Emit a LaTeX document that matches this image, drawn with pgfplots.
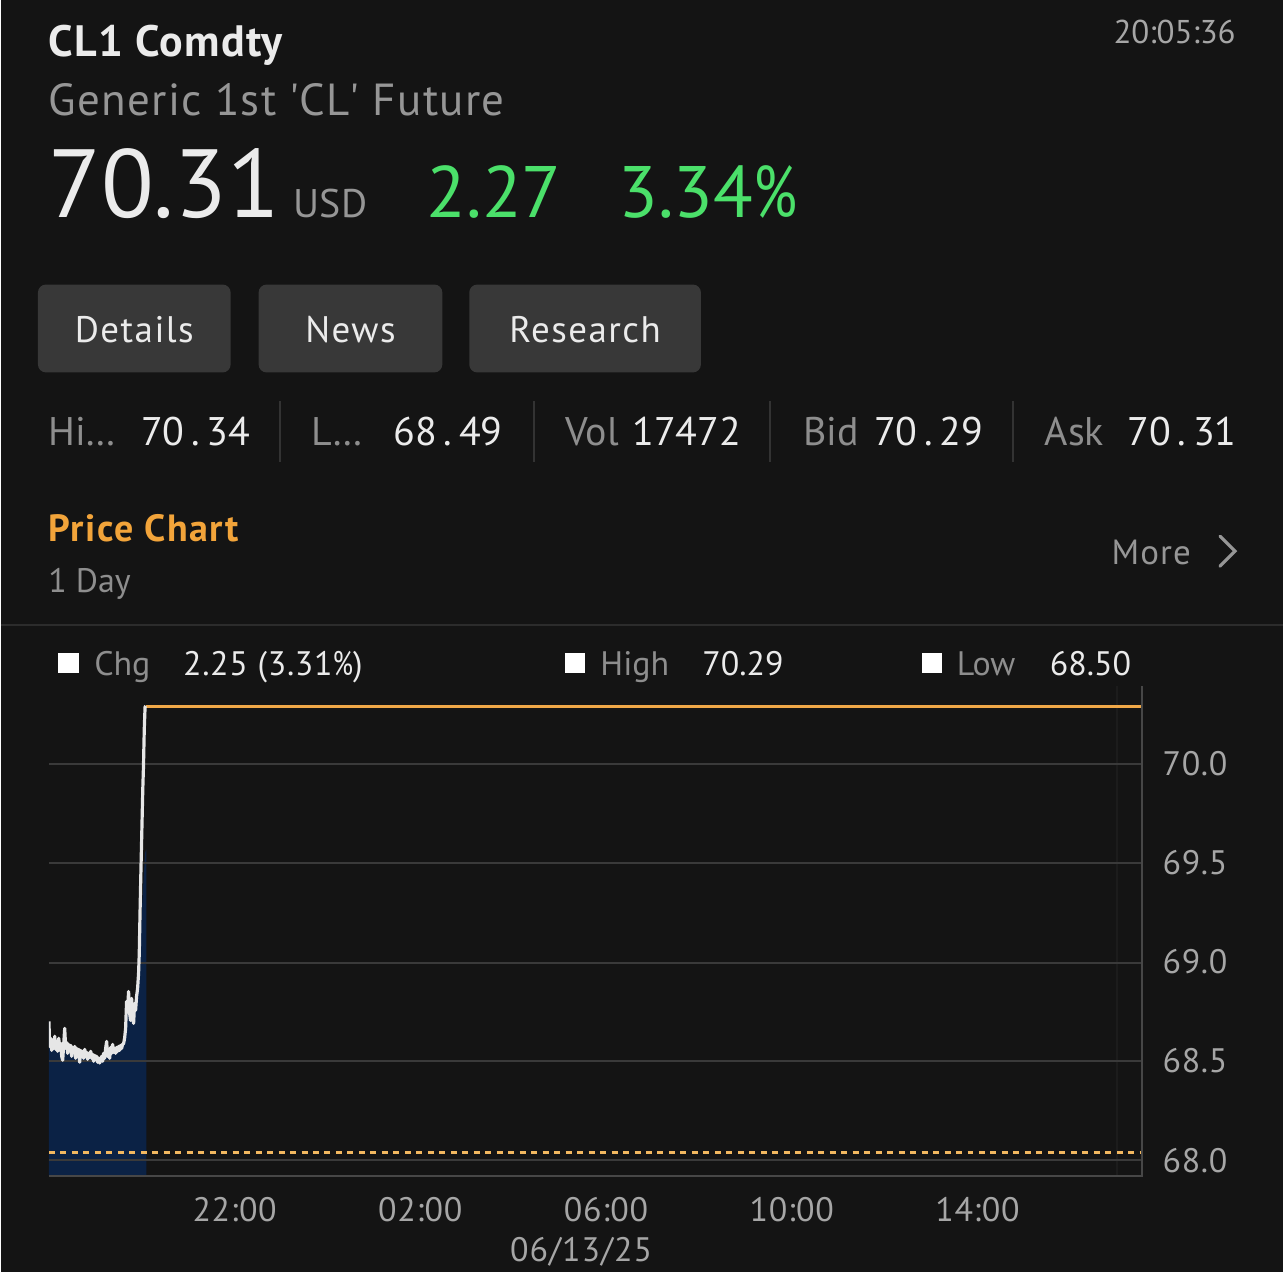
\documentclass[border=0pt]{standalone}
\usepackage{pgfplots}
\pgfplotsset{compat=1.18}
\usepackage{pgfplotstable}
\usepackage{fontspec}
\setmainfont{PT Sans}
\definecolor{bg}{HTML}{141414}
\definecolor{wt}{HTML}{EBEBEB}
\definecolor{gr}{HTML}{969696}
\definecolor{grd}{HTML}{8E8E8E}
\definecolor{green}{HTML}{4BE06A}
\definecolor{orng}{HTML}{F2A43A}
\definecolor{orline}{HTML}{F0A848}
\definecolor{ordash}{HTML}{F2B860}
\definecolor{btn}{HTML}{383838}
\definecolor{divc}{HTML}{333333}
\definecolor{sepc}{HTML}{2C2C2C}
\definecolor{gridc}{HTML}{3A3A3A}
\definecolor{axc}{HTML}{474747}
\definecolor{tick}{HTML}{A6A6A6}
\definecolor{navy}{HTML}{0B2245}
\definecolor{linec}{HTML}{E6E6E6}
\definecolor{faint}{HTML}{1C1C1C}
\newcommand{\fs}[1]{\fontsize{#1}{#1}\selectfont}
\newcommand{\ls}[1]{\addfontfeatures{LetterSpace=#1}}
\newcommand{\tp}{\makebox[\fontcharwd\font`\0][c]{.}}
\newcommand{\pc}{\scalebox{0.78}[1]{\%}}

\pgfplotstableread{
h v
0.000 68.700
0.017 68.574
0.039 68.615
0.060 68.554
0.082 68.605
0.103 68.564
0.125 68.625
0.146 68.559
0.168 68.594
0.189 68.549
0.211 68.615
0.232 68.569
0.254 68.589
0.275 68.524
0.297 68.504
0.318 68.584
0.340 68.665
0.361 68.564
0.383 68.594
0.404 68.539
0.426 68.584
0.447 68.554
0.469 68.579
0.490 68.524
0.512 68.569
0.533 68.544
0.555 68.574
0.576 68.514
0.598 68.564
0.619 68.534
0.641 68.559
0.662 68.494
0.684 68.554
0.705 68.529
0.727 68.549
0.748 68.514
0.770 68.559
0.791 68.524
0.813 68.544
0.834 68.509
0.856 68.539
0.877 68.519
0.899 68.549
0.920 68.514
0.942 68.534
0.963 68.499
0.985 68.529
1.006 68.509
1.028 68.524
1.049 68.494
1.071 68.514
1.092 68.490
1.114 68.504
1.135 68.524
1.157 68.499
1.178 68.539
1.200 68.514
1.222 68.564
1.243 68.599
1.265 68.524
1.286 68.554
1.308 68.514
1.329 68.569
1.351 68.539
1.372 68.584
1.394 68.544
1.415 68.564
1.437 68.539
1.458 68.569
1.480 68.549
1.501 68.574
1.523 68.554
1.544 68.579
1.566 68.564
1.587 68.584
1.609 68.589
1.630 68.615
1.652 68.665
1.673 68.801
1.695 68.766
1.716 68.851
1.738 68.741
1.759 68.705
1.781 68.816
1.802 68.725
1.824 68.690
1.845 68.791
1.867 68.756
1.888 68.826
1.910 68.866
1.931 68.942
1.946 69.043
1.963 69.254
1.978 69.421
2.000 69.647
2.022 69.874
2.037 69.990
2.054 70.176
2.071 70.287
2.086 70.292
}\pricedata

\pgfplotstableread{
h v
1.910 68.866
1.931 68.942
1.946 69.000
1.963 69.050
1.978 69.150
2.022 69.350
2.071 69.550
2.100 69.570
}\filltail

\begin{document}
\begin{tikzpicture}[x=0.5pt,y=-0.5pt]
\fill[bg] (0,0) rectangle (1284,1274);

% header
\node[anchor=base west, inner sep=0, text=wt, font=\bfseries\fs{22}\ls{3}] at (47,57) {CL1 Comdty};
\node[anchor=base west, inner sep=0, text=gr, font=\fs{22.5}\ls{3}] at (47,116) {Generic 1st \textquotesingle CL\textquotesingle\ Future};
\node[anchor=base east, inner sep=0, text=tick, font=\fs{16.5}] at (1237,44) {20:05:36};
\node[anchor=base west, inner sep=0, text=wt, font=\fs{48.5}] at (47,218) {70.31};
\node[anchor=base west, inner sep=0, text=gr, font=\fs{20}] at (293,218) {USD};
\node[anchor=base west, inner sep=0, text=green, font=\fs{36.5}] at (426,218) {2.27};
\node[anchor=base west, inner sep=0, text=green, font=\fs{36.5}] at (618,218) {3.34\pc};

% buttons
\fill[btn, rounded corners=4pt] (37,285) rectangle (230,373);
\fill[btn, rounded corners=4pt] (258,285) rectangle (442,373);
\fill[btn, rounded corners=4pt] (469,285) rectangle (701,373);
\begin{scope}[font=\fs{18.5}\ls{4}]
\node[anchor=base, inner sep=0, text=wt] at (133.5,343) {Details};
\node[anchor=base, inner sep=0, text=wt] at (350,343) {News};
\node[anchor=base, inner sep=0, text=wt] at (585,343) {Research};
\end{scope}

% stats row
\begin{scope}[font=\fs{20}]
\node[anchor=base west, inner sep=0, text=grd] at (47,446) {Hi…};
\node[anchor=base west, inner sep=0, text=wt] at (140,446) {70\tp 34};
\node[anchor=base west, inner sep=0, text=grd] at (311,446) {L…};
\node[anchor=base west, inner sep=0, text=wt] at (393,446) {68\tp 49};
\node[anchor=base west, inner sep=0, text=grd] at (565,446) {Vol};
\node[anchor=base west, inner sep=0, text=wt] at (632,446) {17472};
\node[anchor=base west, inner sep=0, text=grd] at (803,446) {Bid};
\node[anchor=base west, inner sep=0, text=wt] at (874,446) {70\tp 29};
\node[anchor=base west, inner sep=0, text=grd] at (1045,446) {Ask};
\node[anchor=base east, inner sep=0, text=wt] at (1238,446) {70\tp 31};
\end{scope}
\foreach \xx in {279,534,770,1014} {\draw[divc, line width=1pt] (\xx,402) -- (\xx,463);}

% price chart heading
\node[anchor=base west, inner sep=0, text=orng, font=\bfseries\fs{19}\ls{4}] at (47,542) {Price Chart};
\node[anchor=base west, inner sep=0, text=grd, font=\fs{17}] at (47,593) {1 Day};
\node[anchor=base west, inner sep=0, text=gr, font=\fs{17.5}\ls{3}] at (1112,565) {More};
\draw[gr, line width=1.6pt, line cap=round, line join=miter] (1221,537) -- (1236,552) -- (1221,567);
\draw[sepc, line width=1pt] (0,626) -- (1284,626);

% legend row
\fill[white] (57,654) rectangle (78,674);
\fill[white] (565,654) rectangle (585,674);
\fill[white] (922,654) rectangle (942,674);
\begin{scope}[font=\fs{17}]
\node[anchor=base west, inner sep=0, text=grd] at (93,677) {Chg};
\node[anchor=base west, inner sep=0, text=wt, font=\fs{17}\ls{2}] at (182,677) {2.25 (3.31\pc)};
\node[anchor=base west, inner sep=0, text=grd] at (600,677) {High};
\node[anchor=base west, inner sep=0, text=wt] at (702,677) {70.29};
\node[anchor=base west, inner sep=0, text=grd] at (957,677) {Low};
\node[anchor=base west, inner sep=0, text=wt] at (1050,677) {68.50};
\end{scope}

\begin{axis}[
  at={(24pt,-589pt)}, anchor=south west,
  scale only axis, width=547.5pt, height=245.5pt,
  xmin=0, xmax=23.55, ymin=67.919, ymax=70.393,
  axis line style={draw=none}, major tick length=0pt, tick style={draw=none},
  xtick={4,8,12,16,20}, xticklabels={22:00,02:00,06:00,10:00,14:00},
  ytick={68,68.5,69,69.5,70}, yticklabels={68.0,68.5,69.0,69.5,70.0},
  ytick pos=right, yticklabel pos=right,
  ticklabel style={font=\fs{17}\ls{2}, text=tick},
  xticklabel style={anchor=base, yshift=-22.5pt, inner sep=0pt},
  yticklabel style={anchor=west, inner sep=0pt, xshift=10pt},
]
\addplot[faint, line width=1pt] coordinates {(23,67.919) (23,70.393)};
\addplot[draw=none, fill=navy, restrict x to domain=0:1.932] table[x=h,y=v] {\pricedata} \closedcycle;
\addplot[draw=none, fill=navy] table[x=h,y=v] {\filltail} \closedcycle;
\end{axis}
% grid lines (decoration), drawn over the fill
\foreach \yy in {765,864,964,1063,1162} {\draw[gridc, line width=1pt] (48,\yy) -- (1143,\yy);}
\begin{axis}[
  at={(24pt,-589pt)}, anchor=south west,
  scale only axis, width=547.5pt, height=245.5pt,
  xmin=0, xmax=23.55, ymin=67.919, ymax=70.393,
  axis lines=none, ticks=none,
]
\addplot[ordash, line width=1.5pt, dash pattern=on 3pt off 2.75pt] coordinates {(0,68.04) (23.55,68.04)};
\addplot[orline, line width=1.5pt] coordinates {(2.086,70.29) (23.55,70.29)};
\addplot[linec, line width=1.6pt, line join=round] table[x=h,y=v] {\pricedata};
\end{axis}
\draw[axc, line width=1pt] (48,1178) -- (1143,1178) -- (1143,687);
\node[anchor=base, inner sep=0, text=tick, font=\fs{17}\ls{3}] at (581,1263) {06/13/25};
\end{tikzpicture}
\end{document}
